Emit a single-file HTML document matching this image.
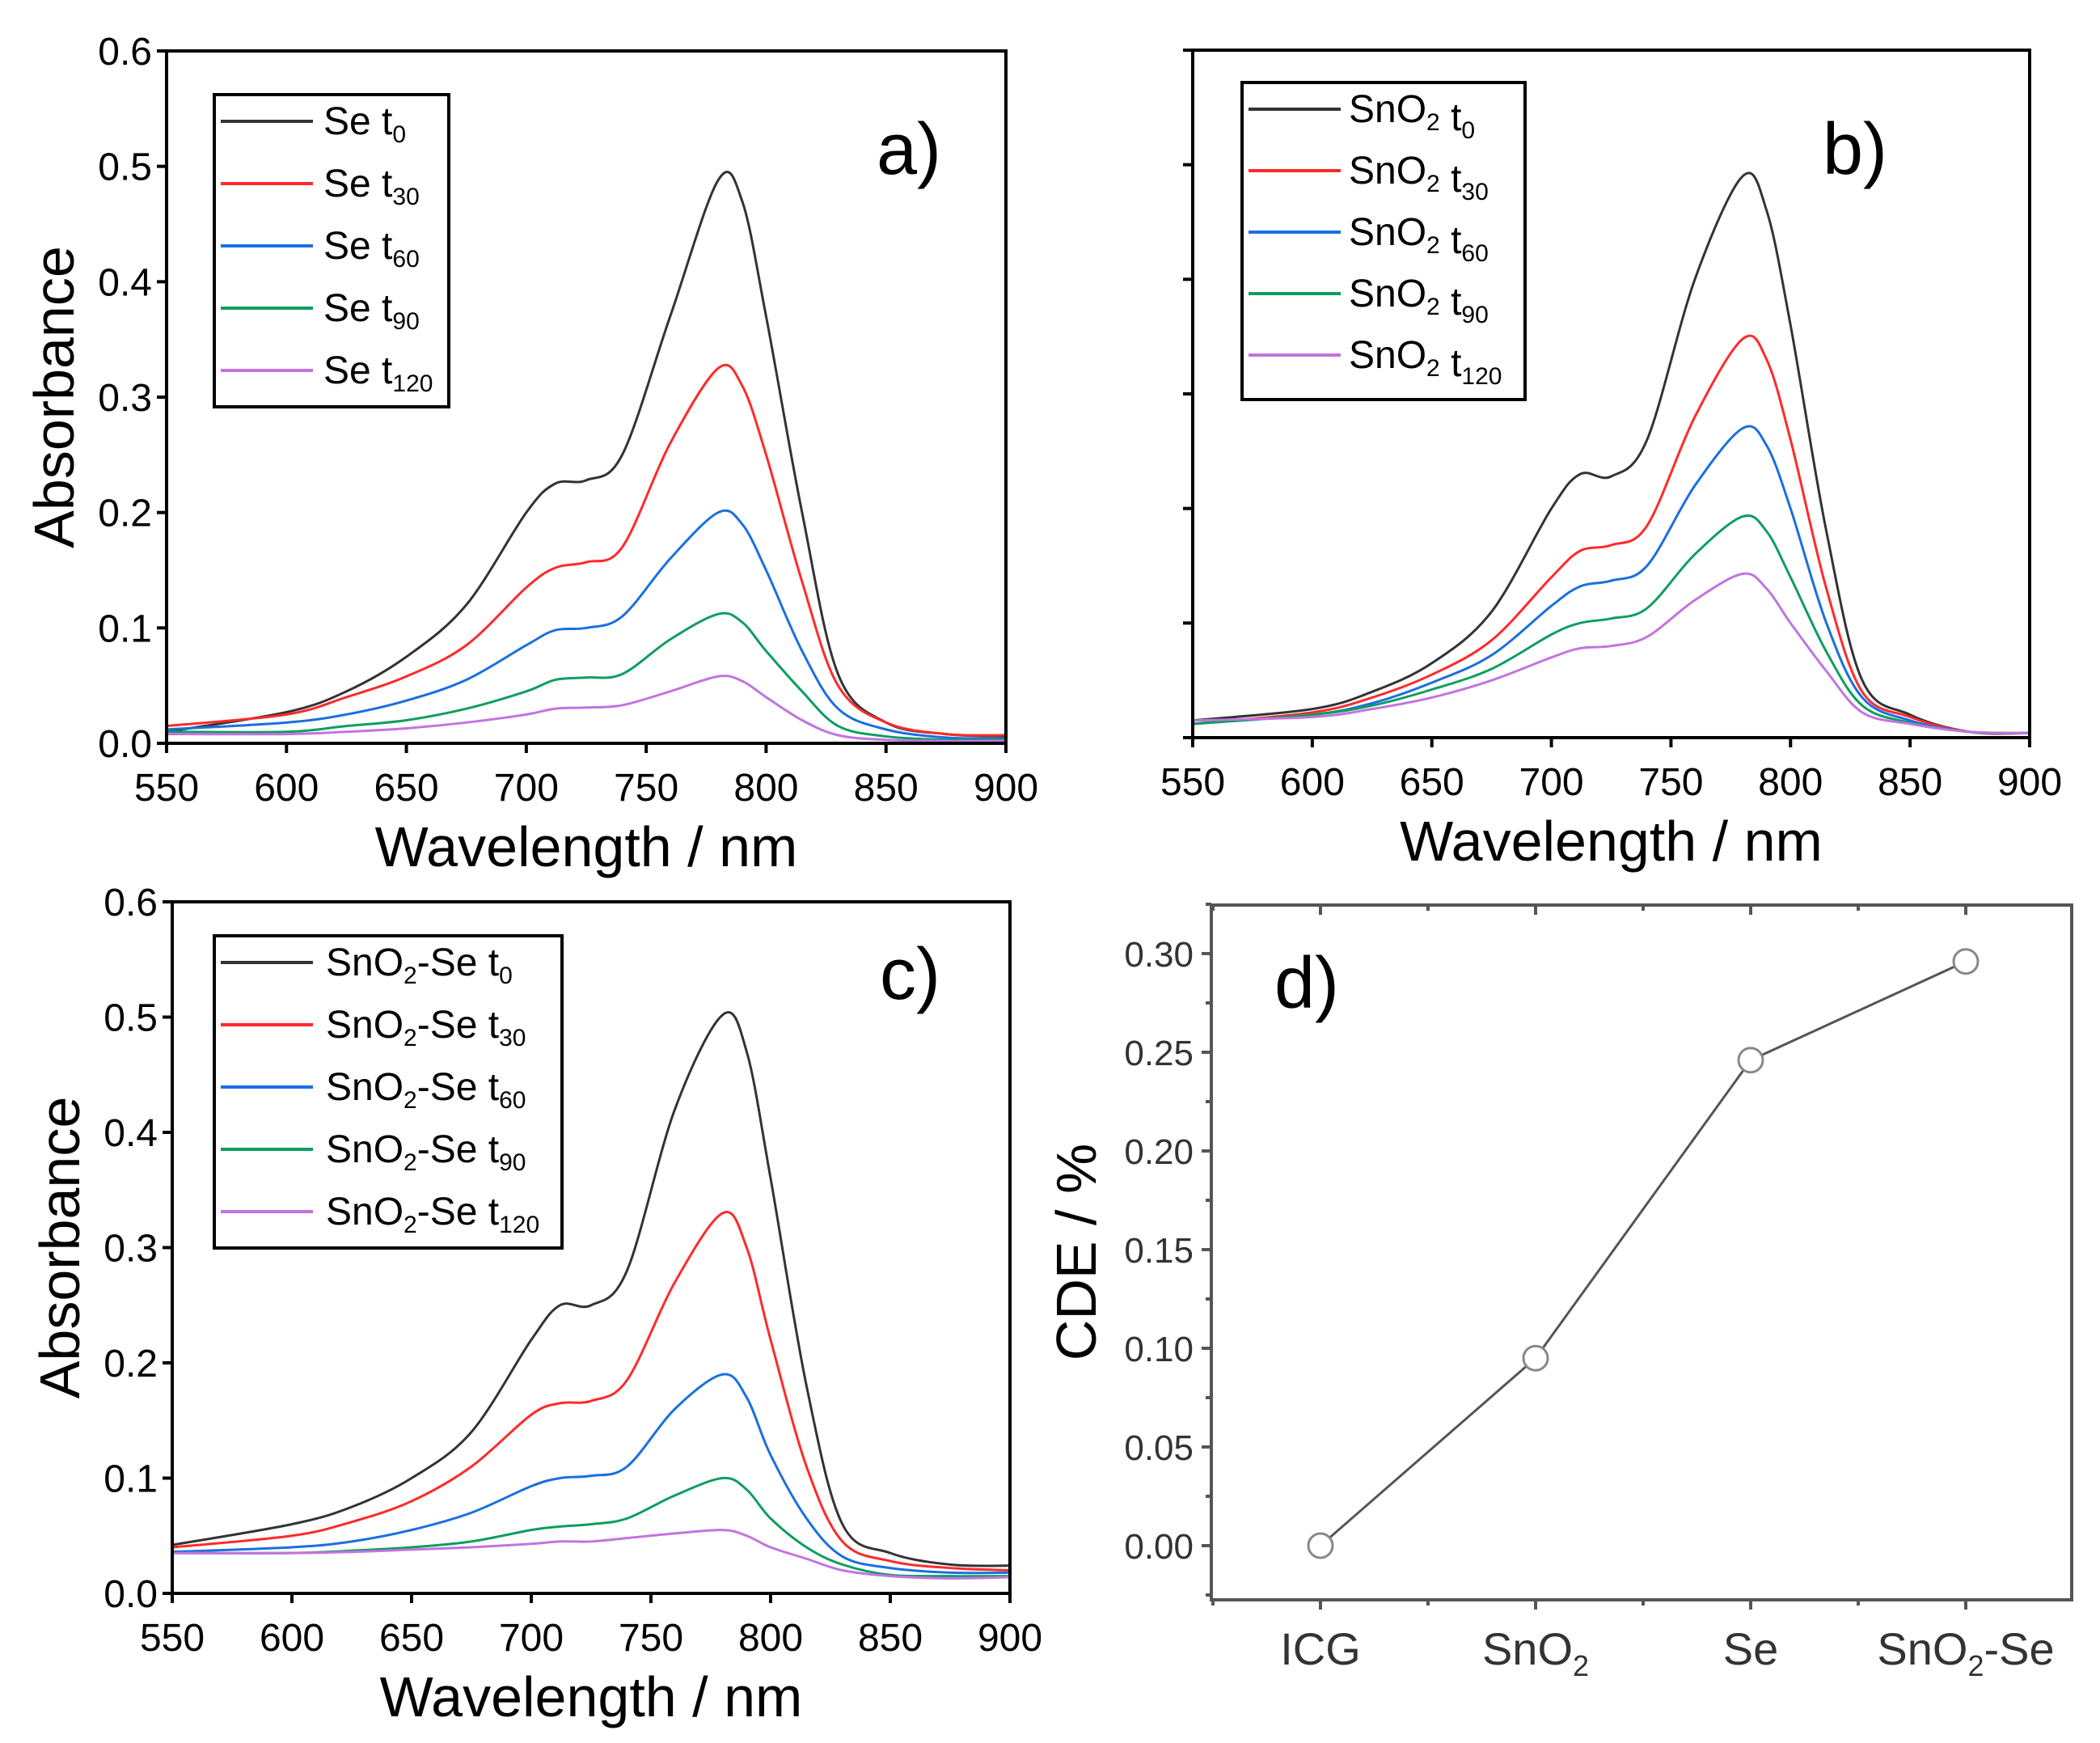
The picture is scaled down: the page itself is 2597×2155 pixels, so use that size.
<!DOCTYPE html>
<html><head><meta charset="utf-8">
<style>
html,body{margin:0;padding:0;background:#fff;}
svg{display:block;font-family:"Liberation Sans",sans-serif;}
</style></head>
<body>
<svg id="fig" width="2597" height="2155" viewBox="0 0 2597 2155" xmlns="http://www.w3.org/2000/svg"></svg>
<script>
const wavelengths=[550,600,625,650,675,700,712,725,740,760,780,790,800,815,830,850,875,900];
const seT0=[0.01,0.027,0.045,0.075,0.12,0.2,0.225,0.228,0.25,0.37,0.488,0.47,0.37,0.2,0.06,0.018,0.008,0.006];
const seT30=[0.015,0.025,0.04,0.058,0.085,0.135,0.152,0.157,0.17,0.26,0.325,0.31,0.25,0.14,0.05,0.018,0.008,0.007];
const seT60=[0.012,0.018,0.025,0.037,0.055,0.085,0.098,0.1,0.11,0.16,0.2,0.19,0.15,0.08,0.03,0.012,0.005,0.004];
const seT90=[0.01,0.01,0.015,0.02,0.03,0.045,0.055,0.057,0.06,0.09,0.112,0.105,0.08,0.045,0.015,0.006,0.003,0.003];
const seT120=[0.008,0.008,0.01,0.013,0.018,0.025,0.03,0.031,0.033,0.045,0.058,0.054,0.04,0.02,0.007,0.003,0.002,0.002];
const snT0=[0.015,0.025,0.04,0.065,0.11,0.2,0.23,0.228,0.26,0.4,0.49,0.46,0.36,0.18,0.05,0.02,0.005,0.004];
const snT30=[0.012,0.022,0.035,0.055,0.085,0.14,0.163,0.168,0.185,0.28,0.348,0.33,0.26,0.13,0.04,0.018,0.005,0.004];
const snT60=[0.012,0.02,0.03,0.048,0.072,0.115,0.132,0.137,0.15,0.22,0.27,0.255,0.2,0.1,0.035,0.015,0.005,0.004];
const snT90=[0.012,0.02,0.028,0.042,0.06,0.09,0.1,0.104,0.113,0.16,0.193,0.18,0.14,0.075,0.028,0.013,0.005,0.004];
const snT120=[0.015,0.018,0.025,0.035,0.05,0.07,0.078,0.08,0.088,0.12,0.143,0.13,0.1,0.058,0.022,0.012,0.005,0.004];
const ssT0=[0.042,0.06,0.075,0.1,0.14,0.22,0.25,0.25,0.28,0.42,0.502,0.47,0.36,0.18,0.06,0.035,0.025,0.024];
const ssT30=[0.04,0.05,0.062,0.08,0.11,0.155,0.165,0.167,0.185,0.27,0.33,0.3,0.22,0.11,0.045,0.028,0.022,0.02];
const ssT60=[0.036,0.04,0.045,0.055,0.07,0.093,0.1,0.102,0.11,0.16,0.19,0.17,0.12,0.065,0.032,0.022,0.018,0.018];
const ssT90=[0.035,0.035,0.037,0.04,0.045,0.055,0.058,0.06,0.065,0.085,0.1,0.09,0.065,0.04,0.025,0.016,0.015,0.015];
const ssT120=[0.035,0.035,0.036,0.038,0.04,0.043,0.045,0.045,0.048,0.052,0.055,0.05,0.04,0.03,0.02,0.015,0.013,0.014];
const xTicks=[550,600,650,700,750,800,850,900];
const yTicks=[0,0.1,0.2,0.3,0.4,0.5,0.6];
const timeSubs=["0","30","60","90","120"];
const cdeCategories=["ICG","SnO2","Se","SnO2-Se"];
const cdeValues=[0,0.095,0.246,0.296];
const cdeTicks=[0,0.05,0.10,0.15,0.20,0.25,0.30];

const NS="http://www.w3.org/2000/svg";
const svg=document.getElementById('fig');
const colors=["#333333","#ff2a2a","#1a6fe0","#0e9e5e","#c274e0"];
function el(tag,attrs,parent,text){const e=document.createElementNS(NS,tag);for(const k in attrs)e.setAttribute(k,attrs[k]);if(text!==undefined)e.textContent=text;(parent||svg).appendChild(e);return e;}
function smoothPath(pts){let d=`M${pts[0][0]},${pts[0][1]}`;for(let i=0;i<pts.length-1;i++){const p0=pts[Math.max(0,i-1)],p1=pts[i],p2=pts[i+1],p3=pts[Math.min(pts.length-1,i+2)];const c1x=p1[0]+(p2[0]-p0[0])/6,c1y=p1[1]+(p2[1]-p0[1])/6,c2x=p2[0]-(p3[0]-p1[0])/6,c2y=p2[1]-(p3[1]-p1[1])/6;d+=` C${c1x},${c1y} ${c2x},${c2y} ${p2[0]},${p2[1]}`;}return d;}

function spectrum(cfg){
  const {L,R,T,B,name,series,prefix,legend,label,showY}=cfg;
  const g=el('g',{},svg);
  const sx=v=>L+(v-550)/350*(R-L), sy=v=>B-v/0.6*(B-T);
  series.forEach((s,i)=>{
    const p=el('path',{d:smoothPath(wavelengths.map((w,j)=>[sx(w),sy(s[j])])),fill:'none',stroke:colors[i],'stroke-width':3},g);
    
  });
  const fr=el('rect',{x:L,y:T,width:R-L,height:B-T,fill:'none',stroke:'#000','stroke-width':4},g);
  
  xTicks.forEach(v=>{el('line',{x1:sx(v),x2:sx(v),y1:B,y2:B+12,stroke:'#000','stroke-width':4},g);
    const t=el('text',{x:sx(v),y:B+71,'text-anchor':'middle','font-size':48,fill:'#000'},g,String(v));});
  yTicks.forEach(v=>{el('line',{x1:L-12,x2:L,y1:sy(v),y2:sy(v),stroke:'#000','stroke-width':4},g);
    if(showY){const t=el('text',{x:L-18,y:sy(v)+17,'text-anchor':'end','font-size':48,fill:'#000'},g,v.toFixed(1));}});
  const xt=el('text',{x:(L+R)/2,y:B+152,'text-anchor':'middle','font-size':70,fill:'#000'},g,'Wavelength / nm');
  if(showY){const cy=(T+B)/2;const yt=el('text',{x:0,y:0,'text-anchor':'middle','font-size':70,fill:'#000',transform:`translate(${L-115},${cy}) rotate(-90)`},g,'Absorbance');}
  const lg=el('g',{},g);
  el('rect',{x:legend.x,y:legend.y,width:legend.w,height:legend.h,fill:'#fff',stroke:'#000','stroke-width':4},lg);
  series.forEach((s,i)=>{const ry=legend.y+33+i*legend.step;
    const e=el('g',{},lg);
    el('line',{x1:legend.x+8,x2:legend.x+122,y1:ry,y2:ry,stroke:colors[i],'stroke-width':4},e);
    const t=el('text',{x:legend.tx,y:ry+16,'font-size':48,fill:'#000'},e);
    prefix.forEach(part=>{el('tspan',part.sub?{'font-size':30,dy:10}:{dy:part.up?-10:0},t,part.t);});
    el('tspan',{},t,' t');el('tspan',{'font-size':30,dy:10},t,timeSubs[i]);
  });
  const lb=el('text',{x:label.x,y:label.y,'font-size':90,fill:'#000'},g,label.t);
}
spectrum({L:206,R:1244,T:63,B:919,name:'panel-a-chart',series:[seT0,seT30,seT60,seT90,seT120],prefix:[{t:'Se'}],
  legend:{x:265,y:117,w:290,h:386,step:77,tx:400},label:{x:1084,y:215,t:'a)'},showY:true});
spectrum({L:1475,R:2510,T:62,B:912,name:'panel-b-chart',series:[snT0,snT30,snT60,snT90,snT120],prefix:[{t:'SnO'},{t:'2',sub:true},{t:'',up:true}],
  legend:{x:1536,y:102,w:350,h:392,step:76,tx:1668},label:{x:2254,y:215,t:'b)'},showY:false});
spectrum({L:213,R:1249,T:1115,B:1970,name:'panel-c-chart',series:[ssT0,ssT30,ssT60,ssT90,ssT120],prefix:[{t:'SnO'},{t:'2',sub:true},{t:'-Se',up:true}],
  legend:{x:265,y:1157,w:430,h:386,step:77,tx:403},label:{x:1088,y:1235,t:'c)'},showY:true});

// panel d
(function(){
  const L=1498,R=2562,T=1119,B=1978,y0=1911,y30=1179;
  const g=el('g',{},svg);
  const sy=v=>y0-v/0.30*(y0-y30);
  const step=266;
  const sx=i=>1633+i*step;
  el('rect',{x:L,y:T,width:R-L,height:B-T,fill:'none',stroke:'#555','stroke-width':4},g);
  for(let v=-0.025;v<=0.3251;v+=0.025){const major=Math.abs(Math.round(v*20)-v*20)<1e-6;
    el('line',{x1:L-(major?12:7),x2:L,y1:sy(v),y2:sy(v),stroke:'#555','stroke-width':4},g);}
  cdeTicks.forEach(v=>{const t=el('text',{x:L-22,y:sy(v)+16,'text-anchor':'end','font-size':44,fill:'#333'},g,v.toFixed(2));});
  for(let k=-0.5;k<=3.5;k+=0.5){const x=sx(k);if(x<L||x>R)continue;const maj=Number.isInteger(k);
    el('line',{x1:x,x2:x,y1:B,y2:B+(maj?12:7),stroke:'#555','stroke-width':4},g);
    el('line',{x1:x,x2:x,y1:T,y2:T+(maj?12:7),stroke:'#555','stroke-width':4},g);}
  cdeCategories.forEach((c,i)=>{const t=el('text',{x:sx(i),y:2058,'text-anchor':'middle','font-size':56,fill:'#333'},g);
    
    if(c.indexOf('SnO2')===0){el('tspan',{},t,'SnO');el('tspan',{'font-size':36,dy:14},t,'2');if(c.length>4)el('tspan',{dy:-14},t,c.slice(4));}else t.textContent=c;});
  const pts=cdeValues.map((v,i)=>[sx(i),sy(v)]);
  const ln=el('polyline',{points:pts.map(p=>p.join(',')).join(' '),fill:'none',stroke:'#555','stroke-width':3},g);
  
  pts.forEach((p,i)=>{const c=el('circle',{cx:p[0],cy:p[1],r:15,fill:'#fff',stroke:'#888','stroke-width':3},g);
    });
  const yt=el('text',{x:0,y:0,'text-anchor':'middle','font-size':70,fill:'#000',transform:`translate(1355,1548) rotate(-90)`},g,'CDE / %');
  
  const lb=el('text',{x:1576,y:1246,'font-size':90,fill:'#000'},g,'d)');
})();
</script>
</body></html>
